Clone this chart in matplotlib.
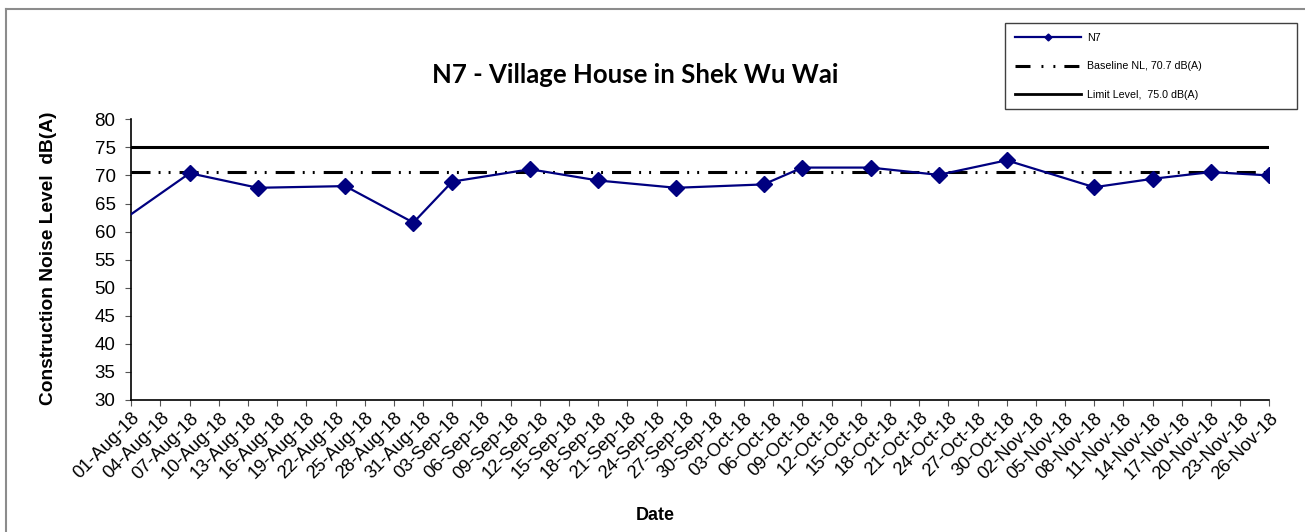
import matplotlib
matplotlib.use("Agg")
import matplotlib.pyplot as plt
import matplotlib.dates as mdates
from matplotlib.lines import Line2D
from matplotlib.patches import Rectangle
import numpy as np
import pandas as pd

dates = ["2018-07-31", "2018-08-07", "2018-08-14", "2018-08-23", "2018-08-30",
         "2018-09-03", "2018-09-11", "2018-09-18", "2018-09-26", "2018-10-05",
         "2018-10-09", "2018-10-16", "2018-10-23", "2018-10-30", "2018-11-08",
         "2018-11-14", "2018-11-20", "2018-11-26"]
levels = [61.9, 70.4, 67.8, 68.1, 61.6,
          68.9, 71.1, 69.1, 67.8, 68.4,
          71.4, 71.4, 70.1, 72.7, 67.9,
          69.4, 70.6, 70.0]

baseline = 70.7
limit = 75.0
y_ticks = [30, 35, 40, 45, 50, 55, 60, 65, 70, 75, 80]

x = pd.to_datetime(dates)
x_start = pd.Timestamp("2018-08-01")
x_end = pd.Timestamp("2018-11-26")
tick_dates = pd.date_range(x_start, x_end, freq="3D")

plt.rcParams["font.family"] = ["Liberation Sans", "DejaVu Sans"]
plt.rcParams["lines.scale_dashes"] = False

W, H = 1305, 532
fig = plt.figure(figsize=(W / 100, H / 100), dpi=100)
ax = fig.add_axes([131.3 / W, 1 - 400 / H, (1269.3 - 131.3) / W, (400 - 119.3) / H])

# outer chart border (only left/top visible in the original crop)
fig.add_artist(Line2D([6 / W, 6 / W], [0, 1 - 9 / H], color="#8c8c8c", lw=1.5))
fig.add_artist(Line2D([6 / W, 1], [1 - 9 / H, 1 - 9 / H], color="#8c8c8c", lw=1.5))

navy = "#000080"
base_dash = (13.7, 5.8, 1.4, 5.8, 1.4, 6.5)
ax.plot(x, levels, color=navy, lw=1.6, marker="D", ms=7.8, mfc=navy, mec=navy, zorder=4)
ax.axhline(baseline, color="black", lw=2.2, dashes=base_dash, zorder=3)
ax.axhline(limit, color="black", lw=2.2, zorder=3)

ax.set_xlim(x_start, x_end)
ax.set_ylim(30, 80)
ax.set_yticks(y_ticks)
ax.set_xticks(tick_dates)
ax.xaxis.set_major_formatter(mdates.DateFormatter("%d-%b-%y"))
for lab in ax.get_xticklabels():
    lab.set_rotation(45)
    lab.set_ha("right")
    lab.set_va("top")
    lab.set_rotation_mode("anchor")
ax.tick_params(axis="x", labelsize=13.2, direction="out", length=4, color="#555555", pad=3)
ax.tick_params(axis="y", labelsize=13.5, direction="out", length=4.3, color="#555555", pad=7)

for s in ["top", "right"]:
    ax.spines[s].set_visible(False)
for s in ["left", "bottom"]:
    ax.spines[s].set_linewidth(1.2)

fig.text(635 / W, 1 - 75 / H, "N7 - Village House in Shek Wu Wai", family=["Lato", "DejaVu Sans"],
         fontweight="bold", fontsize=18.5, ha="center", va="center")
fig.text(49 / W, 1 - 258 / H, "Construction Noise Level  dB(A)", fontweight="bold", fontsize=13.8,
         rotation=90, ha="center", va="center")
fig.text(655 / W, 1 - 515 / H, "Date", fontweight="bold", fontsize=13, ha="center", va="center")

# legend box is wider than its contents in the original
fig.add_artist(Rectangle((1005 / W, 1 - 109 / H), 292 / W, 86 / H, transform=fig.transFigure,
                         facecolor="white", edgecolor="#404040", lw=1.0, zorder=5))
handles = [
    Line2D([], [], color=navy, lw=1.6, marker="D", ms=3.5),
    Line2D([], [], color="black", lw=2.2, dashes=(10.8, 7.9, 1.4, 7.2, 1.4, 6.5)),
    Line2D([], [], color="black", lw=2.0),
]
labels = ["N7", "Baseline NL, 70.7 dB(A)", "Limit Level,  75.0 dB(A)"]
leg = fig.legend(handles, labels, loc="upper left", bbox_to_anchor=(1005 / W, 1 - 23 / H),
                 fontsize=7.7, frameon=False, handlelength=6.2, handletextpad=0.55,
                 labelspacing=1.7, borderpad=0.95, borderaxespad=0)
leg.set_zorder(6)

fig.savefig("out.png", dpi=100)
